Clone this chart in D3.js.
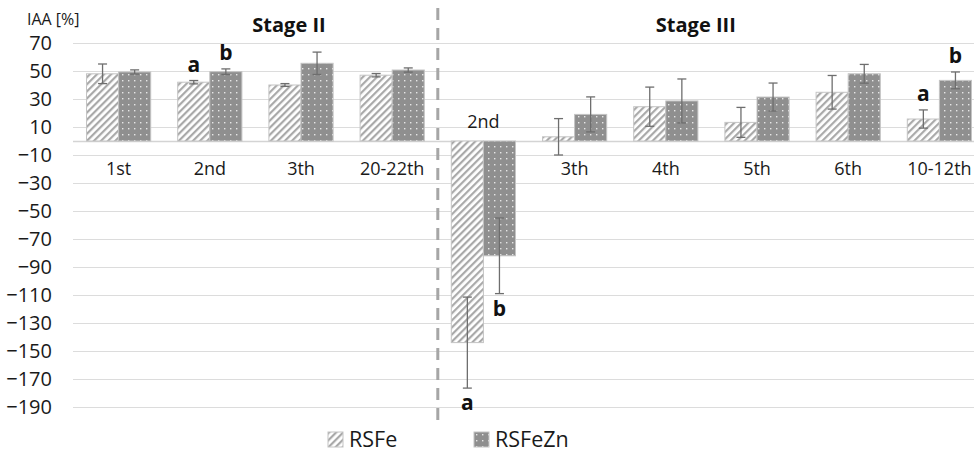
<!DOCTYPE html>
<html>
<head>
<meta charset="utf-8">
<script src="https://cdn.jsdelivr.net/npm/d3@7"></script>
<style>
  html, body { margin: 0; padding: 0; background: #fff; }
  svg { display: block; font-family: "Open Sans", sans-serif; }
</style>
</head>
<body>
<div id="chart"></div>
<script>
// data
var categories = ["1st", "2nd", "3th", "20-22th", "2nd", "3th", "4th", "5th", "6th", "10-12th"];
var stageNames = ["Stage II", "Stage III"];
var stageOf = [0, 0, 0, 0, 1, 1, 1, 1, 1, 1];
var seriesNames = ["RSFe", "RSFeZn"];
var rsfeValues = [48, 42, 40, 47, -144, 3, 24.5, 13.3, 34.8, 15.7];
var rsfeErrors = [7, 1.2, 1, 1.2, 32.5, 13, 14, 10.7, 12, 6.5];
var rsfeznValues = [49.3, 49.5, 55.5, 50.7, -82, 19, 28.6, 31.4, 48, 43.3];
var rsfeznErrors = [1.5, 2, 8, 1.5, 27, 12.5, 15.7, 10, 6.7, 6];
var yTicks = [70, 50, 30, 10, -10, -30, -50, -70, -90, -110, -130, -150, -170, -190];
// significance letters: category index, series index, letter
var letterMarks = [[1, 0, "a"], [1, 1, "b"], [4, 0, "a"], [4, 1, "b"], [9, 0, "a"], [9, 1, "b"]];

var width = 974, height = 452;
var margin = { top: 43, left: 73, right: -11, bottom: 45 };

var svg = d3.select("#chart").append("svg")
  .attr("width", width)
  .attr("height", height);

// fill patterns
var defs = svg.append("defs");
var hatch = defs.append("pattern")
  .attr("id", "hatch")
  .attr("patternUnits", "userSpaceOnUse")
  .attr("width", 5).attr("height", 5)
  .attr("patternTransform", "rotate(45)");
hatch.append("rect").attr("width", 5).attr("height", 5).attr("fill", "#fff");
hatch.append("rect").attr("x", 0).attr("width", 2.2).attr("height", 5).attr("fill", "#a9a9a9");

var dots = defs.append("pattern")
  .attr("id", "dots")
  .attr("patternUnits", "userSpaceOnUse")
  .attr("width", 6).attr("height", 6);
dots.append("rect").attr("width", 6).attr("height", 6).attr("fill", "#8f8f8f");
dots.append("rect").attr("x", 2).attr("y", 2).attr("width", 1.4).attr("height", 1.4).attr("fill", "#e6e6e6");

var fills = ["url(#hatch)", "url(#dots)"];

var series = seriesNames.map(function(name, s) {
  var vals = s === 0 ? rsfeValues : rsfeznValues;
  var errs = s === 0 ? rsfeErrors : rsfeznErrors;
  return categories.map(function(c, i) {
    return { cat: i, s: s, value: vals[i], err: errs[i] };
  });
});

var x0 = d3.scaleBand()
  .domain(d3.range(categories.length))
  .range([margin.left, width - margin.right])
  .paddingInner(0.296)
  .paddingOuter(0.148);

var x1 = d3.scaleBand()
  .domain(d3.range(seriesNames.length))
  .range([0, x0.bandwidth()]);

var y = d3.scaleLinear()
  .domain([-190, 70])
  .range([height - margin.bottom, margin.top]);

function center(i) { return x0(i) + x0.bandwidth() / 2; }

// gridlines
svg.append("g")
  .selectAll("line")
  .data(yTicks)
  .enter().append("line")
  .attr("x1", margin.left).attr("x2", width)
  .attr("y1", function(d) { return Math.round(y(d)) + 0.5; })
  .attr("y2", function(d) { return Math.round(y(d)) + 0.5; })
  .attr("stroke", "#dcdcdc")
  .attr("stroke-width", 1.2);

// y axis labels
var yAxis = d3.axisLeft(y).tickValues(yTicks).tickSize(0).tickPadding(21);
svg.append("g")
  .attr("transform", "translate(" + margin.left + ",0)")
  .call(yAxis)
  .call(function(g) { g.select(".domain").remove(); })
  .selectAll("text")
  .attr("font-family", "Open Sans")
  .attr("font-size", 20)
  .attr("fill", "#1a1a1a");

svg.append("text")
  .attr("x", 27).attr("y", 25)
  .attr("font-size", 16)
  .attr("fill", "#1a1a1a")
  .text("IAA [%]");

// zero line
svg.append("line")
  .attr("x1", margin.left).attr("x2", width)
  .attr("y1", Math.round(y(0)) + 0.5).attr("y2", Math.round(y(0)) + 0.5)
  .attr("stroke", "#d4d4d4")
  .attr("stroke-width", 1.5);

// bars
var groups = svg.append("g").selectAll("g")
  .data(series)
  .enter().append("g");

groups.selectAll("rect")
  .data(function(d) { return d; })
  .enter().append("rect")
  .attr("x", function(d) { return x0(d.cat) + x1(d.s); })
  .attr("width", x1.bandwidth())
  .attr("y", function(d) { return y(Math.max(0, d.value)); })
  .attr("height", function(d) { return Math.abs(y(d.value) - y(0)); })
  .attr("fill", function(d) { return fills[d.s]; })
  .attr("stroke", "#c4c4c4")
  .attr("stroke-width", 1);

// error bars
var errG = svg.append("g")
  .attr("stroke", "#6e6e6e")
  .attr("stroke-width", 1.3);
series.forEach(function(ser) {
  ser.forEach(function(d) {
    var cx = x0(d.cat) + x1(d.s) + x1.bandwidth() / 2;
    var top = y(d.value + d.err), bot = y(d.value - d.err);
    errG.append("line").attr("x1", cx).attr("x2", cx).attr("y1", top).attr("y2", bot);
    errG.append("line").attr("x1", cx - 4.5).attr("x2", cx + 4.5).attr("y1", top).attr("y2", top);
    errG.append("line").attr("x1", cx - 4.5).attr("x2", cx + 4.5).attr("y1", bot).attr("y2", bot);
  });
});

// category labels
svg.append("g").selectAll("text")
  .data(categories)
  .enter().append("text")
  .attr("x", function(d, i) { return center(i); })
  .attr("y", function(d, i) {
    var neg = rsfeValues[i] < 0 && rsfeznValues[i] < 0;
    return neg ? y(0) - 13 : y(0) + 34;
  })
  .attr("text-anchor", "middle")
  .attr("font-size", 18)
  .attr("fill", "#1a1a1a")
  .text(function(d) { return d; });

// significance letters
svg.append("g").selectAll("text")
  .data(letterMarks)
  .enter().append("text")
  .attr("x", function(d) { return x0(d[0]) + x1(d[1]) + x1.bandwidth() / 2; })
  .attr("y", function(d) {
    var ser = series[d[1]][d[0]];
    return ser.value < 0 ? y(ser.value - ser.err) + 22 : y(ser.value + ser.err) - 9;
  })
  .attr("text-anchor", "middle")
  .attr("font-size", 21)
  .attr("font-weight", "bold")
  .attr("fill", "#111")
  .text(function(d) { return d[2]; });

// stage divider and titles
var step = x0.step();
var splitIdx = stageOf.indexOf(1);
var splitX = x0(splitIdx) - step * x0.paddingInner() / 2;
svg.append("line")
  .attr("x1", splitX).attr("x2", splitX)
  .attr("y1", 8).attr("y2", 424)
  .attr("stroke", "#a6a6a6")
  .attr("stroke-width", 3)
  .attr("stroke-dasharray", "12,8");

var stageCenters = [center(2) - 12, center(6) + 30];
svg.append("g").selectAll("text")
  .data(stageNames)
  .enter().append("text")
  .attr("x", function(d, i) { return stageCenters[i]; })
  .attr("y", 32)
  .attr("text-anchor", "middle")
  .attr("font-size", 20)
  .attr("font-weight", "bold")
  .attr("fill", "#111")
  .text(function(d) { return d; });

// legend
var legendX = [328, 474];
var legend = svg.append("g").selectAll("g")
  .data(seriesNames)
  .enter().append("g")
  .attr("transform", function(d, i) { return "translate(" + legendX[i] + ",432)"; });
legend.append("rect")
  .attr("width", 15).attr("height", 15)
  .attr("fill", function(d, i) { return fills[i]; })
  .attr("stroke", "#c4c4c4");
legend.append("text")
  .attr("x", 21).attr("y", 14.5)
  .attr("font-size", 21.5)
  .attr("fill", "#1a1a1a")
  .text(function(d) { return d; });
</script>
</body>
</html>
